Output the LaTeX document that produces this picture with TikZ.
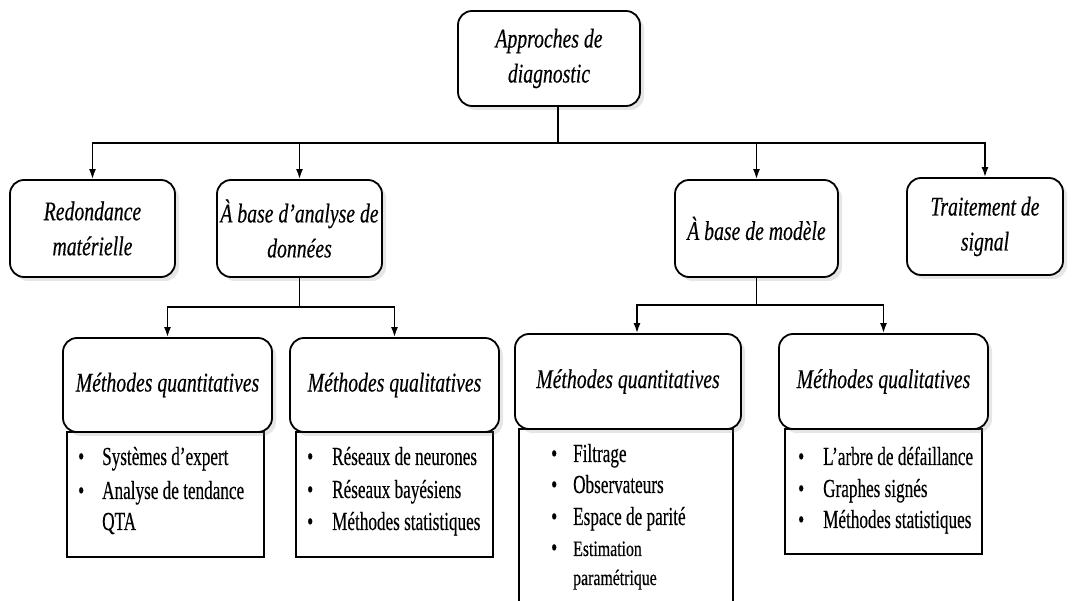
\documentclass[tikz,border=0pt]{standalone}
\usepackage{fontspec}
\usetikzlibrary{shadows,arrows.meta}
\newfontfamily\hfont[FakeStretch=0.73,FakeBold=0.35]{Liberation Serif}
\newfontfamily\lfont[FakeStretch=0.66,FakeBold=0.3]{Liberation Serif}
\newfontfamily\sfont[FakeStretch=0.72,FakeBold=0.3]{Liberation Serif}
\begin{document}
\begin{tikzpicture}[x=1pt,y=-1pt,
  hbox/.style={draw, line width=1.8pt, rounded corners=14pt, fill=white, align=center, inner sep=0pt,
    font=\hfont\itshape\fontsize{27}{35}\selectfont,
    drop shadow={opacity=0.2, shadow xshift=4pt, shadow yshift=-4pt}},
  lbox/.style={draw, line width=1.8pt, inner sep=0pt, fill=white},
  arr/.style={line width=1.6pt, -{Latex[length=10pt,width=7pt]}},
  conn/.style={line width=1.6pt},
  item/.style={anchor=base west, inner sep=0pt, font=\lfont\fontsize{26}{32}\selectfont},
  sitem/.style={anchor=base west, inner sep=0pt, font=\sfont\fontsize{22}{28}\selectfont},
]
\useasboundingbox (0,0) rectangle (1080,601);
\clip (0,0) rectangle (1080,601);

% level 1 and 2
\node[hbox, minimum width=182pt, minimum height=95pt] (top) at (549,58.5) {Approches de\\diagnostic};
\node[hbox, minimum width=165pt, minimum height=97pt] (red) at (92.5,228.5) {Redondance\\matérielle};
\node[hbox, minimum width=165pt, minimum height=97pt] (ana) at (299.5,228.5) {À base d’analyse de\\données};
\node[hbox, minimum width=163pt, minimum height=97pt] (mod) at (756.5,228.5) {À base de modèle};
\node[hbox, minimum width=156pt, minimum height=97pt] (tra) at (985,226.5) {Traitement de\\signal};

% list boxes
\node[lbox, minimum width=197pt, minimum height=125pt] (la) at (165.5,494.5) {};
\node[lbox, minimum width=197pt, minimum height=125pt] (lb) at (394.5,494.5) {};
\node[lbox, minimum width=214pt, minimum height=211pt] (lc) at (626,534.5) {};
\node[lbox, minimum width=197pt, minimum height=125pt] (ld) at (883.5,491.5) {};

% level 3 headings
\node[hbox, minimum width=209pt, minimum height=94pt] (qa) at (167.5,385) {Méthodes quantitatives};
\node[hbox, minimum width=209pt, minimum height=94pt] (qb) at (394.5,385) {Méthodes qualitatives};
\node[hbox, minimum width=226pt, minimum height=95pt] (qc) at (628,381.5) {Méthodes quantitatives};
\node[hbox, minimum width=209pt, minimum height=95pt] (qd) at (883.5,381.5) {Méthodes qualitatives};

% connectors
\coordinate (j0) at (558,143);
\draw[conn] (top.south -| j0) -- (j0);
\draw[arr] (j0) -| (red.north);
\draw[arr] (j0) -| (ana.north);
\draw[arr] (j0) -| (mod.north);
\draw[arr] (j0) -| (tra.north);

\coordinate (j1) at (ana.south |- 0,307);
\draw[conn] (ana.south) -- (j1);
\draw[arr] (j1) -| (qa.north);
\draw[arr] (j1) -| (qb.north);

\coordinate (j2) at (mod.south |- 0,305);
\draw[conn] (mod.south) -- (j2);
\draw[arr] (j2) -| ([xshift=9pt]qc.north);
\draw[arr] (j2) -| (qd.north);

% list items
\node[item] (a1) at (78,465) {\makebox[24pt][l]{•}Systèmes d’expert};
\node[item] (a2) at (78,499) {\makebox[24pt][l]{•}Analyse de tendance};
\node[item] (a3) at (102,530) {QTA};

\node[item] (b1) at (307,465) {\makebox[25pt][l]{•}Réseaux de neurones};
\node[item] (b2) at (307,498) {\makebox[25pt][l]{•}Réseaux bayésiens};
\node[item] (b3) at (307,530) {\makebox[25pt][l]{•}Méthodes statistiques};

\node[item] (c1) at (551,462) {\makebox[22pt][l]{•}Filtrage};
\node[item] (c2) at (551,493) {\makebox[22pt][l]{•}Observateurs};
\node[item] (c3) at (551,525) {\makebox[22pt][l]{•}Espace de parité};
\node[item] (c4b) at (551,556) {•};
\node[sitem] (c4) at (573,556) {Estimation};
\node[sitem] (c5) at (573,585) {paramétrique};

\node[item] (d1) at (798,465) {\makebox[25pt][l]{•}L’arbre de défaillance};
\node[item] (d2) at (798,497) {\makebox[25pt][l]{•}Graphes signés};
\node[item] (d3) at (798,528) {\makebox[25pt][l]{•}Méthodes statistiques};
\end{tikzpicture}
\end{document}
